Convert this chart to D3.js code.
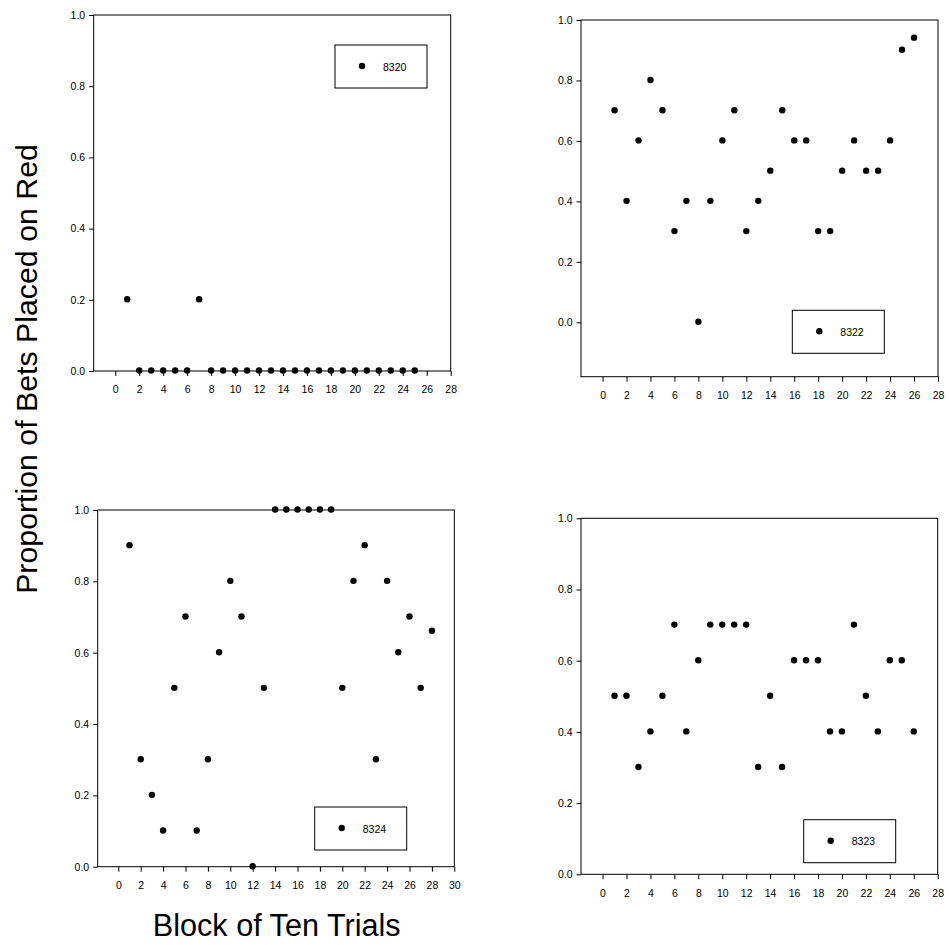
<!DOCTYPE html>
<html>
<head>
<meta charset="utf-8">
<script src="https://cdn.jsdelivr.net/npm/d3@7"></script>
<style>
  html, body { margin: 0; padding: 0; background: #fff; }
  svg { display: block; }
  text { font-family: Arial, "Liberation Sans", sans-serif; fill: #000; }
</style>
</head>
<body>
<svg id="chart" width="949" height="945"></svg>
<script>
// ---- data ----
const subjects = ["8320", "8322", "8324", "8323"];

const blocks8320 = d3.range(1, 26);
const values8320 = [0.2, 0, 0, 0, 0, 0, 0.2, 0, 0, 0, 0, 0, 0, 0, 0, 0, 0, 0, 0, 0, 0, 0, 0, 0, 0];

const blocks8322 = d3.range(1, 27);
const values8322 = [0.7, 0.4, 0.6, 0.8, 0.7, 0.3, 0.4, 0.0, 0.4, 0.6, 0.7, 0.3, 0.4, 0.5, 0.7, 0.6, 0.6, 0.3, 0.3, 0.5, 0.6, 0.5, 0.5, 0.6, 0.9, 0.94];

const blocks8324 = d3.range(1, 29);
const values8324 = [0.9, 0.3, 0.2, 0.1, 0.5, 0.7, 0.1, 0.3, 0.6, 0.8, 0.7, 0.0, 0.5, 1, 1, 1, 1, 1, 1, 0.5, 0.8, 0.9, 0.3, 0.8, 0.6, 0.7, 0.5, 0.66];

const blocks8323 = d3.range(1, 27);
const values8323 = [0.5, 0.5, 0.3, 0.4, 0.5, 0.7, 0.4, 0.6, 0.7, 0.7, 0.7, 0.7, 0.3, 0.5, 0.3, 0.6, 0.6, 0.6, 0.4, 0.4, 0.7, 0.5, 0.4, 0.6, 0.6, 0.4];

const xTicks28 = d3.range(0, 29, 2);
const xTicks30 = d3.range(0, 31, 2);
const yTicks = [0, 0.2, 0.4, 0.6, 0.8, 1.0];

const xTitle = "Block of Ten Trials";
const yTitle = "Proportion of Bets Placed on Red";

// ---- layout ----
const panels = [
  { name: subjects[0], xs: blocks8320, ys: values8320, xDom: [-1.8, 28], yDom: [0, 1],
    box: { l: 93.7, r: 450.7, t: 15, b: 371 }, xTicks: xTicks28,
    legend: { right: 23.7, top: 30 } },
  { name: subjects[1], xs: blocks8322, ys: values8322, xDom: [-1.8, 28], yDom: [-0.18, 1],
    box: { l: 581, r: 938, t: 20, b: 376.7 }, xTicks: xTicks28,
    legend: { right: 53.7, bottom: 23.4 } },
  { name: subjects[2], xs: blocks8324, ys: values8324, xDom: [-1.84, 30], yDom: [0, 1],
    box: { l: 97.7, r: 454.3, t: 510, b: 866.7 }, xTicks: xTicks30,
    legend: { right: 47.6, bottom: 16.7 } },
  { name: subjects[3], xs: blocks8323, ys: values8323, xDom: [-1.8, 28], yDom: [0, 1],
    box: { l: 581, r: 937.7, t: 518.3, b: 874.3 }, xTicks: xTicks28,
    legend: { right: 42, bottom: 11.6 } }
];

const svg = d3.select("#chart");
const LW = 92, LH = 43;

panels.forEach(p => {
  const x = d3.scaleLinear().domain(p.xDom).range([p.box.l, p.box.r]);
  const y = d3.scaleLinear().domain(p.yDom).range([p.box.b, p.box.t]);
  const g = svg.append("g");

  // frame
  g.append("rect")
    .attr("x", p.box.l).attr("y", p.box.t)
    .attr("width", p.box.r - p.box.l).attr("height", p.box.b - p.box.t)
    .attr("fill", "none").attr("stroke", "#000").attr("stroke-width", 1);

  // x axis
  const xa = g.append("g").attr("transform", `translate(0,${p.box.b})`)
    .call(d3.axisBottom(x).tickValues(p.xTicks).tickFormat(d3.format("d"))
      .tickSize(5).tickPadding(10).tickSizeOuter(0));
  xa.select(".domain").remove();
  xa.selectAll("text").style("font-size", "10.5px").style("font-family", "Arial, 'Liberation Sans', sans-serif").attr("fill", "#000");

  // y axis
  const ya = g.append("g").attr("transform", `translate(${p.box.l},0)`)
    .call(d3.axisLeft(y).tickValues(yTicks).tickFormat(d3.format(".1f"))
      .tickSize(4.5).tickPadding(4).tickSizeOuter(0));
  ya.select(".domain").remove();
  ya.selectAll("text").style("font-size", "10.5px").style("font-family", "Arial, 'Liberation Sans', sans-serif").attr("fill", "#000");

  // points
  g.selectAll("circle.pt").data(p.xs.map((d, i) => [d, p.ys[i]]))
    .join("circle").attr("class", "pt")
    .attr("cx", d => x(d[0])).attr("cy", d => y(d[1]) - 0.5)
    .attr("r", 3.2).attr("fill", "#000");

  // legend
  const lx = p.box.r - p.legend.right - LW;
  const ly = p.legend.top !== undefined ? p.box.t + p.legend.top : p.box.b - p.legend.bottom - LH;
  const lg = g.append("g").attr("transform", `translate(${lx},${ly})`);
  lg.append("rect").attr("width", LW).attr("height", LH)
    .attr("fill", "#fff").attr("stroke", "#000").attr("stroke-width", 1);
  lg.append("circle").attr("cx", 27).attr("cy", LH / 2 - 0.5).attr("r", 3.2).attr("fill", "#000");
  lg.append("text").attr("x", 48).attr("y", LH / 2 + 4).style("font-size", "10.5px").text(p.name);
});

// axis titles
svg.append("text").attr("x", 276.7).attr("y", 935.7).attr("text-anchor", "middle")
  .style("font-size", "30.6px").text(xTitle);
svg.append("text").attr("transform", "translate(36.5,369) rotate(-90)").attr("text-anchor", "middle")
  .style("font-size", "30.3px").text(yTitle);
</script>
</body>
</html>
